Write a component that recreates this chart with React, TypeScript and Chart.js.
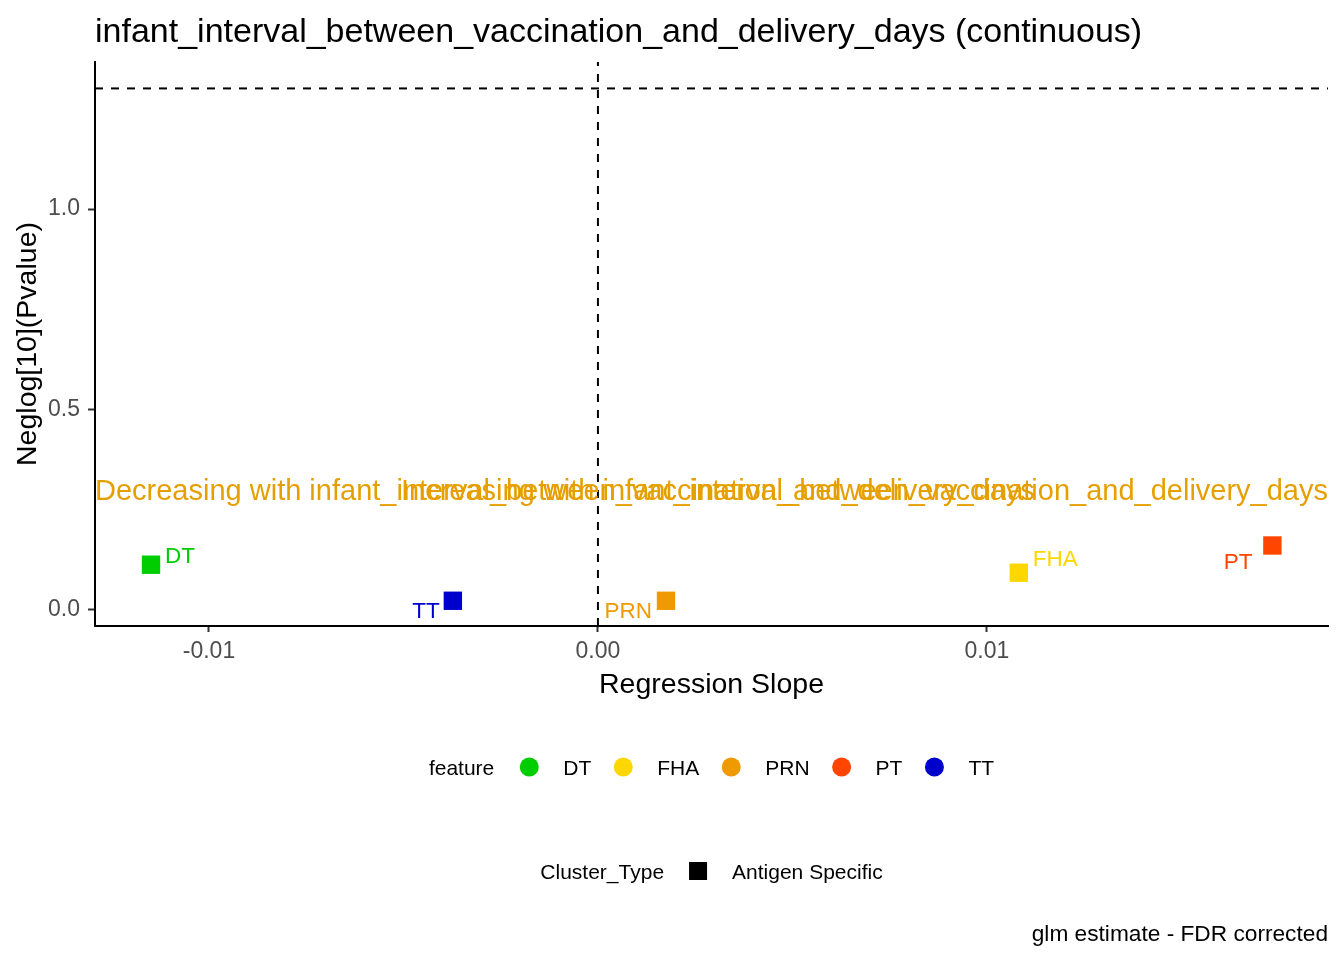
import { useEffect, useRef } from "react";
import { Chart, registerables } from "chart.js";

Chart.register(...registerables);

// --- data ---
const features = ["DT", "FHA", "PRN", "PT", "TT"];
const slopes = [-0.01149, 0.01082, 0.00175, 0.01734, -0.00373];
const negLogP = [0.112, 0.092, 0.022, 0.16, 0.022];
const xTicks = [-0.01, 0, 0.01];
const yTicks = [0, 0.5, 1];
const xRange = [-0.01293, 0.01877];
const yRange = [-0.041, 1.367];
const pThreshold = -Math.log10(0.05);
const trendLabelY = 0.3;
const clusterTypes = ["Antigen Specific"];
const responseName = "infant_interval_between_vaccination_and_delivery_days";

// --- styling ---
const FONT = "'Liberation Sans', Arial, Helvetica, sans-serif";
const featureColors: Record<string, string> = {
  DT: "#00CD00",
  FHA: "#FFD700",
  PRN: "#EE9A00",
  PT: "#FF4500",
  TT: "#0000CD",
};
const trendColor = "#E69F00";
// label offsets from the point (px), like ggrepel put them
const labelNudge: Record<string, [number, number, CanvasTextAlign]> = {
  DT: [14, -10, "left"],
  FHA: [14, -15, "left"],
  PRN: [-14, 9, "right"],
  PT: [-20, 15, "right"],
  TT: [-13, 9, "right"],
};

function text(
  ctx: CanvasRenderingContext2D,
  s: string,
  x: number,
  cy: number,
  size: number,
  color: string,
  align: CanvasTextAlign = "left"
) {
  ctx.font = `${size}px ${FONT}`;
  ctx.fillStyle = color;
  ctx.textAlign = align;
  ctx.textBaseline = "alphabetic";
  ctx.fillText(s, x, cy + size * 0.358);
}

const decorations = {
  id: "decorations",
  afterDatasetsDraw(chart: any) {
    const { ctx, scales } = chart;
    const xs = scales.x;
    const ys = scales.y;
    ctx.save();
    // point labels
    features.forEach((f, i) => {
      const [dx, dy, align] = labelNudge[f];
      const px = xs.getPixelForValue(slopes[i]);
      const py = ys.getPixelForValue(negLogP[i]);
      text(ctx, f, px + dx, py + dy, 22.5, featureColors[f], align);
    });
    // direction annotations
    const ty = ys.getPixelForValue(trendLabelY);
    text(ctx, `Decreasing with ${responseName}`, xs.getPixelForValue(xRange[0]), ty, 29, trendColor, "left");
    text(ctx, `Increasing with ${responseName}`, xs.getPixelForValue(xRange[1]), ty, 29, trendColor, "right");
    ctx.restore();
  },
  afterDraw(chart: any) {
    const { ctx, chartArea } = chart;
    const mid = (chartArea.left + chartArea.right) / 2;
    ctx.save();
    // title
    ctx.font = `34px ${FONT}`;
    ctx.fillStyle = "#000";
    ctx.textAlign = "left";
    ctx.textBaseline = "alphabetic";
    ctx.fillText(`${responseName} (continuous)`, chartArea.left, 42);

    // feature legend
    const lsz = 21;
    const toKey = 35; // title/label end -> key centre
    const toLabel = 34; // key centre -> label start
    const afterLabel = 32;
    ctx.font = `${lsz}px ${FONT}`;
    const titleW = ctx.measureText("feature").width;
    let total = titleW + toKey;
    features.forEach((f, i) => {
      total += toLabel + ctx.measureText(f).width + (i < features.length - 1 ? afterLabel : 0);
    });
    let x = mid - total / 2;
    const fy = 767;
    text(ctx, "feature", x, fy, lsz, "#000");
    x += titleW + toKey;
    features.forEach((f) => {
      ctx.beginPath();
      ctx.arc(x, fy, 9.5, 0, Math.PI * 2);
      ctx.fillStyle = featureColors[f];
      ctx.fill();
      text(ctx, f, x + toLabel, fy, lsz, "#000");
      ctx.font = `${lsz}px ${FONT}`;
      x += toLabel + ctx.measureText(f).width + afterLabel;
    });

    // cluster type legend
    const cy = 871;
    ctx.font = `${lsz}px ${FONT}`;
    const ctW = ctx.measureText("Cluster_Type").width;
    let total2 = ctW + 34;
    clusterTypes.forEach((c) => {
      total2 += 34 + ctx.measureText(c).width;
    });
    x = mid - total2 / 2;
    text(ctx, "Cluster_Type", x, cy, lsz, "#000");
    x += ctW + 34;
    clusterTypes.forEach((c) => {
      ctx.fillStyle = "#000";
      ctx.fillRect(x - 9, cy - 9, 18, 18);
      text(ctx, c, x + 34, cy, lsz, "#000");
      ctx.font = `${lsz}px ${FONT}`;
      x += 34 + ctx.measureText(c).width + 32;
    });

    // caption
    text(ctx, "glm estimate - FDR corrected", chartArea.right, 933, 22.7, "#000", "right");
    ctx.restore();
  },
};

function VolcanoChart() {
  const canva = useRef<HTMLCanvasElement | null>(null);

  useEffect(() => {
    if (!canva.current) return;
    document.body.style.margin = "0";

    const pointSets = features.map((f, i) => ({
      type: "scatter" as const,
      label: f,
      data: [{ x: slopes[i], y: negLogP[i] }],
      pointStyle: "rect",
      pointRadius: 13,
      pointHoverRadius: 13,
      backgroundColor: featureColors[f],
      borderWidth: 0,
      order: 1,
    }));

    const refLine = (data: { x: number; y: number }[]) => ({
      type: "line" as const,
      data,
      borderColor: "#000",
      borderWidth: 2,
      borderDash: [8, 8],
      pointRadius: 0,
      fill: false,
      order: 2,
    });

    const chart = new Chart(canva.current, {
      type: "scatter",
      data: {
        datasets: [
          ...pointSets,
          refLine([
            { x: xRange[0], y: pThreshold },
            { x: xRange[1], y: pThreshold },
          ]),
          refLine([
            { x: 0, y: yRange[0] },
            { x: 0, y: yRange[1] },
          ]),
        ] as any,
      },
      options: {
        animation: false,
        responsive: false,
        devicePixelRatio: 1,
        layout: { padding: { top: 62, left: 0, right: 16, bottom: 254 } },
        plugins: {
          legend: { display: false },
          tooltip: { enabled: false },
          title: { display: false },
        },
        scales: {
          x: {
            type: "linear",
            min: xRange[0],
            max: xRange[1],
            afterFit: (s: any) => {
              s.height = 80;
            },
            afterBuildTicks: (s: any) => {
              s.ticks = xTicks.map((v) => ({ value: v }));
            },
            ticks: {
              color: "#4D4D4D",
              font: { family: FONT, size: 23 },
              padding: 6,
              callback: (v: any) => Number(v).toFixed(2),
            },
            grid: {
              display: true,
              drawOnChartArea: false,
              drawTicks: true,
              tickLength: 6,
              tickColor: "#333333",
              tickWidth: 2,
            },
            border: { display: true, color: "#000", width: 2 },
            title: {
              display: true,
              text: "Regression Slope",
              color: "#000",
              font: { family: FONT, size: 28.5 },
              padding: { top: 0, bottom: 4 },
            },
          },
          y: {
            type: "linear",
            min: yRange[0],
            max: yRange[1],
            afterFit: (s: any) => {
              s.width = 95;
            },
            afterBuildTicks: (s: any) => {
              s.ticks = yTicks.map((v) => ({ value: v }));
            },
            ticks: {
              color: "#4D4D4D",
              font: { family: FONT, size: 23 },
              padding: 8,
              callback: (v: any) => Number(v).toFixed(1),
            },
            grid: {
              display: true,
              drawOnChartArea: false,
              drawTicks: true,
              tickLength: 7,
              tickColor: "#333333",
              tickWidth: 2,
            },
            border: { display: true, color: "#000", width: 2 },
            title: {
              display: true,
              text: "Neglog[10](Pvalue)",
              color: "#000",
              font: { family: FONT, size: 28.5 },
              padding: { top: 11, bottom: 0 },
            },
          },
        },
      },
      plugins: [decorations],
    });

    return () => {
      chart.destroy();
    };
  }, []);

  return <canvas ref={canva} width={1344} height={960} style={{ display: "block" }} />;
}

export default function App() {
  return <VolcanoChart />;
}
